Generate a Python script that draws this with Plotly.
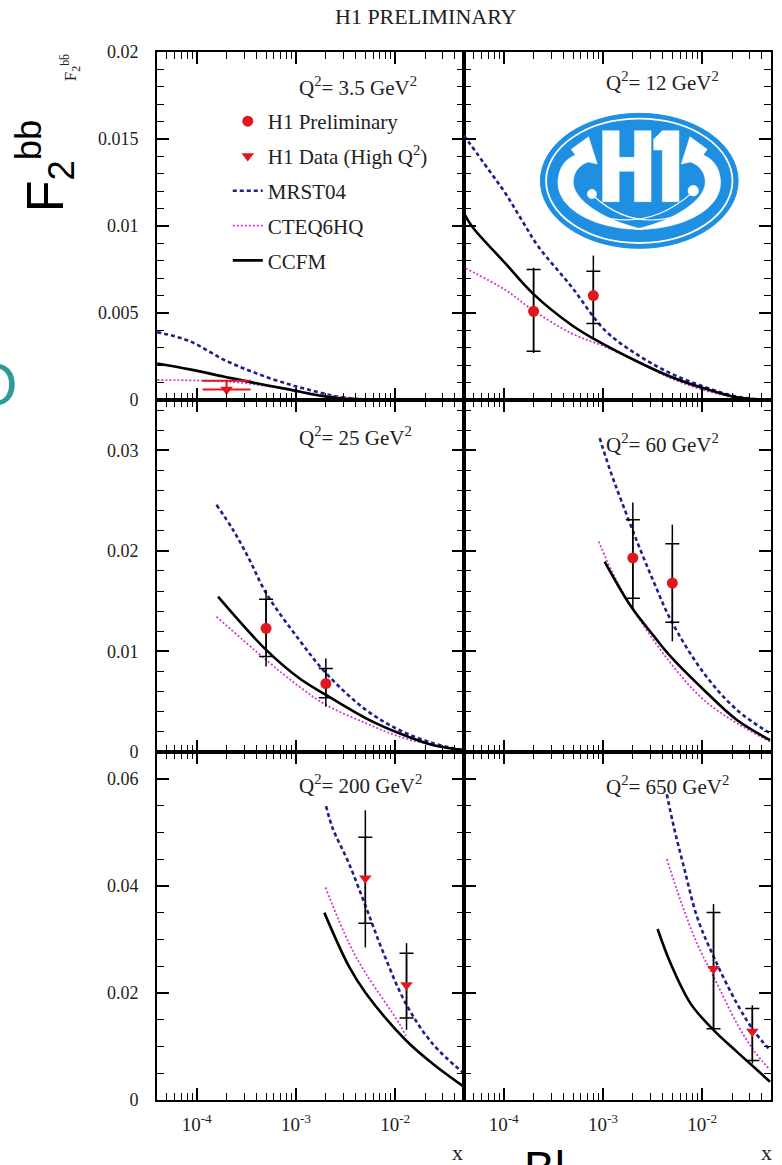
import plotly.graph_objects as go
from plotly.subplots import make_subplots

# ---------------- F2^{b bbar}(x) in six Q^2 bins ----------------
q2_labels = ["3.5", "12", "25", "60", "200", "650"]

# Q^2 = 3.5 GeV^2
mrst_x_1 = [4.0e-5, 8.5e-5, 1.9e-4, 4.0e-4, 8.5e-4, 1.5e-3, 2.5e-3, 4.0e-3, 7.0e-3]
mrst_y_1 = [0.0039, 0.00338, 0.0023, 0.00153, 0.0009, 0.00052, 0.00022, 0.00007, 0.0]
cteq_x_1 = [4.0e-5, 1.0e-4, 2.5e-4, 5.0e-4, 1.0e-3, 2.0e-3, 4.0e-3, 8.0e-3]
cteq_y_1 = [0.00115, 0.00112, 0.00102, 0.0008, 0.00052, 0.00027, 0.0001, 0.0]
ccfm_x_1 = [4.0e-5, 8.5e-5, 1.9e-4, 4.0e-4, 8.5e-4, 1.5e-3, 3.0e-3, 7.0e-3]
ccfm_y_1 = [0.0021, 0.00176, 0.00134, 0.00096, 0.00061, 0.00032, 0.00008, 0.0]
lim_x_1 = [2.0e-4]
lim_y_1 = [0.0006]
lim_up_1 = [0.0005]

# Q^2 = 12 GeV^2
mrst_x_2 = [3.98e-5, 7.08e-5, 1.04e-4, 1.52e-4, 2.24e-4, 4.82e-4, 1.04e-3, 2.24e-3, 4.82e-3, 1.04e-2, 2.24e-2, 4.82e-2]
mrst_y_2 = [0.0152, 0.01322, 0.01188, 0.01034, 0.00881, 0.00651, 0.00402, 0.00259, 0.00153, 0.00077, 0.00019, 0.0]
cteq_x_2 = [4.14e-5, 1.04e-4, 1.96e-4, 4.82e-4, 1.04e-3, 2.24e-3, 4.82e-3, 1.04e-2, 2.24e-2, 4.82e-2]
cteq_y_2 = [0.00757, 0.00632, 0.00517, 0.00383, 0.00307, 0.0022, 0.00125, 0.00057, 0.00013, 0.0]
ccfm_x_2 = [3.98e-5, 4.82e-5, 1.04e-4, 1.96e-4, 4.82e-4, 7.94e-4, 2.24e-3, 4.82e-3, 1.04e-2, 2.24e-2, 4.82e-2]
ccfm_y_2 = [0.01073, 0.00996, 0.00785, 0.00613, 0.00431, 0.00354, 0.0022, 0.00134, 0.00067, 0.00015, 0.0]
pts_x_2 = [2.0e-4, 8.0e-4]
pts_y_2 = [0.0051, 0.0060]
tot_up_2, tot_dn_2 = [0.0025, 0.0023], [0.0024, 0.0024]
sta_up_2, sta_dn_2 = [0.0024, 0.0014], [0.0023, 0.0016]

# Q^2 = 25 GeV^2
mrst_x_3 = [1.58e-4, 2.32e-4, 3.41e-4, 5.01e-4, 1.08e-3, 2.01e-3, 5.08e-3, 1.10e-2, 2.37e-2, 4.74e-2]
mrst_y_3 = [0.02458, 0.0221, 0.0191, 0.01579, 0.01114, 0.00783, 0.00418, 0.00219, 0.0009, 0.0002]
cteq_x_3 = [1.58e-4, 5.01e-4, 1.08e-3, 2.01e-3, 5.08e-3, 1.10e-2, 2.37e-2, 4.74e-2]
cteq_y_3 = [0.01346, 0.00915, 0.0065, 0.00468, 0.00286, 0.00153, 0.0007, 0.0002]
ccfm_x_3 = [1.64e-4, 5.01e-4, 1.08e-3, 2.01e-3, 5.08e-3, 1.10e-2, 2.37e-2, 4.74e-2]
ccfm_y_3 = [0.01545, 0.01015, 0.00733, 0.00567, 0.00335, 0.00186, 0.0007, 0.0002]
pts_x_3 = [5.0e-4, 2.0e-3]
pts_y_3 = [0.0123, 0.0068]
tot_up_3, tot_dn_3 = [0.0038, 0.0025], [0.0038, 0.0023]
sta_up_3, sta_dn_3 = [0.0029, 0.0015], [0.0028, 0.0014]

# Q^2 = 60 GeV^2
mrst_x_4 = [9.27e-4, 1.21e-3, 1.52e-3, 2.24e-3, 3.29e-3, 4.82e-3, 1.04e-2, 2.24e-2, 4.82e-2]
mrst_y_4 = [0.0312, 0.0277, 0.02507, 0.02076, 0.01678, 0.01313, 0.00783, 0.00418, 0.00186]
cteq_x_4 = [9.06e-4, 1.21e-3, 1.92e-3, 4.82e-3, 1.04e-2, 2.24e-2, 4.82e-2]
cteq_y_4 = [0.02093, 0.01811, 0.0145, 0.00882, 0.00517, 0.00286, 0.00103]
ccfm_x_4 = [1.04e-3, 1.92e-3, 3.29e-3, 4.82e-3, 1.04e-2, 2.24e-2, 4.82e-2]
ccfm_y_4 = [0.01894, 0.01446, 0.01147, 0.00948, 0.00617, 0.00318, 0.00119]
pts_x_4 = [2.0e-3, 5.0e-3]
pts_y_4 = [0.0193, 0.0168]
tot_up_4, tot_dn_4 = [0.0055, 0.0058], [0.0052, 0.0058]
sta_up_4, sta_dn_4 = [0.0038, 0.0039], [0.0040, 0.0039]

# Q^2 = 200 GeV^2
mrst_x_5 = [2.01e-3, 2.34e-3, 3.45e-3, 5.08e-3, 7.45e-3, 1.28e-2, 2.37e-2, 4.9e-2]
mrst_y_5 = [0.0549, 0.0508, 0.0440, 0.0360, 0.0279, 0.0180, 0.01055, 0.0050]
cteq_x_5 = [1.98e-3, 3.45e-3, 5.08e-3, 1.10e-2, 1.28e-2]
cteq_y_5 = [0.0397, 0.02915, 0.02357, 0.01427, 0.0120]
ccfm_x_5 = [1.93e-3, 3.45e-3, 5.08e-3, 1.28e-2, 2.37e-2, 4.9e-2]
ccfm_y_5 = [0.0350, 0.0248, 0.0199, 0.01116, 0.00682, 0.0025]
pts_x_5 = [5.0e-3, 1.3e-2]
pts_y_5 = [0.0414, 0.0215]
tot_up_5, tot_dn_5 = [0.0127, 0.0078], [0.0129, 0.0084]
sta_up_5, sta_dn_5 = [0.0077, 0.0059], [0.0084, 0.0062]

# Q^2 = 650 GeV^2
mrst_x_6 = [4.40e-3, 5.21e-3, 6.56e-3, 8.91e-3, 1.31e-2, 2.24e-2, 3.29e-2, 4.82e-2]
mrst_y_6 = [0.0571, 0.0508, 0.0434, 0.0341, 0.02667, 0.0180, 0.0130, 0.0093]
cteq_x_6 = [4.40e-3, 6.07e-3, 8.91e-3, 1.31e-2, 2.24e-2, 3.29e-2, 4.82e-2]
cteq_y_6 = [0.0450, 0.0372, 0.02915, 0.02294, 0.01427, 0.0093, 0.00558]
ccfm_x_6 = [3.55e-3, 4.82e-3, 7.64e-3, 1.31e-2, 2.24e-2, 3.29e-2, 4.82e-2]
ccfm_y_6 = [0.03194, 0.02543, 0.0180, 0.0130, 0.00899, 0.0062, 0.0034]
pts_x_6 = [1.3e-2, 3.2e-2]
pts_y_6 = [0.0245, 0.0128]
tot_up_6, tot_dn_6 = [0.0121, 0.0049], [0.0115, 0.0060]
sta_up_6, sta_dn_6 = [0.0105, 0.0043], [0.0112, 0.0054]

x_tickvals = [1e-4, 1e-3, 1e-2]
x_ticktext = ["10<sup>-4</sup>", "10<sup>-3</sup>", "10<sup>-2</sup>"]

# ---------------- page geometry ----------------
W, H = 782, 1165
M_L, M_R, M_T, M_B = 157, 9, 52, 65
PW, PH = W - M_L - M_R, H - M_T - M_B

RED = "#e3161d"
BLUE = "#1c1f8c"
MAGENTA = "#d13bd1"
SERIF = "Liberation Serif"
SANS = "Liberation Sans"


def paper(px, py):
    return (px - M_L) / PW, (H - M_B - py) / PH


fig = make_subplots(rows=3, cols=2, row_heights=[348, 352, 348],
                    horizontal_spacing=0, vertical_spacing=0)

curves = [
    (1, 1, mrst_x_1, mrst_y_1, cteq_x_1, cteq_y_1, ccfm_x_1, ccfm_y_1),
    (1, 2, mrst_x_2, mrst_y_2, cteq_x_2, cteq_y_2, ccfm_x_2, ccfm_y_2),
    (2, 1, mrst_x_3, mrst_y_3, cteq_x_3, cteq_y_3, ccfm_x_3, ccfm_y_3),
    (2, 2, mrst_x_4, mrst_y_4, cteq_x_4, cteq_y_4, ccfm_x_4, ccfm_y_4),
    (3, 1, mrst_x_5, mrst_y_5, cteq_x_5, cteq_y_5, ccfm_x_5, ccfm_y_5),
    (3, 2, mrst_x_6, mrst_y_6, cteq_x_6, cteq_y_6, ccfm_x_6, ccfm_y_6),
]

for i, (r, c, mx, my, tx, ty, cx, cy) in enumerate(curves):
    first = i == 0
    fig.add_trace(go.Scatter(x=mx, y=my, mode="lines", line_shape="spline",
                             line=dict(color=BLUE, width=2.6, dash="4px,3px"),
                             name="MRST04", legendgroup="mrst", legendrank=3,
                             showlegend=first, hoverinfo="skip"), row=r, col=c)
    fig.add_trace(go.Scatter(x=tx, y=ty, mode="lines", line_shape="spline",
                             line=dict(color=MAGENTA, width=1.8, dash="2px,2px"),
                             name="CTEQ6HQ", legendgroup="cteq", legendrank=4,
                             showlegend=first, hoverinfo="skip"), row=r, col=c)
    fig.add_trace(go.Scatter(x=cx, y=cy, mode="lines", line_shape="spline",
                             line=dict(color="black", width=2.6),
                             name="CCFM", legendgroup="ccfm", legendrank=5,
                             showlegend=first, hoverinfo="skip"), row=r, col=c)


def add_points(r, c, x, y, tu, td, su, sd, symbol, name, group, rank, show):
    # full uncertainty as a plain vertical line
    fig.add_trace(go.Scatter(x=x, y=y, mode="markers", marker=dict(size=2, opacity=0),
                             error_y=dict(type="data", array=tu, arrayminus=td,
                                          color="black", thickness=1.5, width=0),
                             showlegend=False, hoverinfo="skip"), row=r, col=c)
    # statistical part, marked with cross-bars
    fig.add_trace(go.Scatter(x=x, y=y, mode="markers", marker=dict(size=2, opacity=0),
                             error_y=dict(type="data", array=su, arrayminus=sd,
                                          color="black", thickness=1.5, width=7),
                             showlegend=False, hoverinfo="skip"), row=r, col=c)
    fig.add_trace(go.Scatter(x=x, y=y, mode="markers",
                             marker=dict(symbol=symbol, size=11, color=RED),
                             name=name, legendgroup=group, legendrank=rank,
                             showlegend=show, hoverinfo="skip"), row=r, col=c)


PRELIM = "H1 Preliminary"
HIGHQ = "H1 Data (High Q<sup>2</sup>)"

# lowest bin: upper limit
fig.add_trace(go.Scatter(x=lim_x_1, y=lim_y_1, mode="markers",
                         marker=dict(symbol="triangle-down", size=11, color=RED),
                         error_y=dict(type="data", array=lim_up_1, arrayminus=[0],
                                      color=RED, thickness=2, width=24),
                         showlegend=False, hoverinfo="skip"), row=1, col=1)
fig.add_trace(go.Scatter(x=[None], y=[None], mode="markers",
                         marker=dict(symbol="triangle-down", size=11, color=RED),
                         name=HIGHQ, legendgroup="high", legendrank=2,
                         showlegend=True), row=1, col=1)

add_points(1, 2, pts_x_2, pts_y_2, tot_up_2, tot_dn_2, sta_up_2, sta_dn_2, "circle", PRELIM, "prel", 1, True)
add_points(2, 1, pts_x_3, pts_y_3, tot_up_3, tot_dn_3, sta_up_3, sta_dn_3, "circle", PRELIM, "prel", 1, False)
add_points(2, 2, pts_x_4, pts_y_4, tot_up_4, tot_dn_4, sta_up_4, sta_dn_4, "circle", PRELIM, "prel", 1, False)
add_points(3, 1, pts_x_5, pts_y_5, tot_up_5, tot_dn_5, sta_up_5, sta_dn_5, "triangle-down", HIGHQ, "high", 2, False)
add_points(3, 2, pts_x_6, pts_y_6, tot_up_6, tot_dn_6, sta_up_6, sta_dn_6, "triangle-down", HIGHQ, "high", 2, False)

# ---------------- axes ----------------
frame = dict(showline=True, linecolor="black", linewidth=2, mirror="ticks",
             ticks="inside", ticklen=12, tickwidth=1.5, tickcolor="black",
             showgrid=False, zeroline=False)
y_setup = {1: (0.02, 0.005, 0.001), 2: (0.035, 0.01, 0.002), 3: (0.065, 0.02, 0.005)}

for r in (1, 2, 3):
    top, major, minor = y_setup[r]
    for c in (1, 2):
        fig.update_xaxes(type="log", range=[-4.40, -1.307],
                         tickmode="array", tickvals=x_tickvals, ticktext=x_ticktext,
                         showticklabels=(r == 3), ticklabelstandoff=6,
                         tickfont=dict(family=SERIF, size=19, color="#222"),
                         minor=dict(ticks="inside", ticklen=7, tickwidth=1.3,
                                    tickcolor="black", dtick="D1"),
                         row=r, col=c, **frame)
        fig.update_yaxes(range=[0, top], tick0=0, dtick=major,
                         showticklabels=(c == 1), ticklabelstandoff=13,
                         tickfont=dict(family=SERIF, size=18, color="#222"),
                         minor=dict(ticks="inside", ticklen=7, tickwidth=1.3,
                                    tickcolor="black", tick0=0, dtick=minor),
                         row=r, col=c, **frame)

# ---------------- texts ----------------
ann = []


def text(px, py, s, size, family=SERIF, color="#222", xanchor="center",
         yanchor="middle", angle=0):
    xp, yp = paper(px, py)
    ann.append(dict(x=xp, y=yp, xref="paper", yref="paper", text=s, showarrow=False,
                    xanchor=xanchor, yanchor=yanchor, textangle=angle,
                    font=dict(family=family, size=size, color=color)))


text(427, 17, "H1 PRELIMINARY", 22)
q2_pos = [(297, 86), (605, 82), (297, 436), (605, 443), (297, 784), (605, 785)]
for lab, (px, py) in zip(q2_labels, q2_pos):
    text(px, py, "Q<sup>2</sup>= %s GeV<sup>2</sup>" % lab, 21, xanchor="left")
text(458, 1152, "x", 22)
text(768, 1152, "x", 22)
text(70, 68, "F<sub>2</sub><sup>bb\u0304</sup>", 17, angle=-90)
text(45, 166, "F<sub>2</sub><sup>bb</sup>", 52, family=SANS, color="black", angle=-90)
text(20, 384, "O", 60, family=SANS, color="#2c9c95", xanchor="right")
text(523, 1168, "Bl", 46, family=SANS, color="black", xanchor="left")

# ---------------- H1 emblem ----------------
LX0, LY0, LS = 530, 100, 1 / 3.0
LOGO_BLUE = "#1e8fe1"


def lp(zx, zy):
    xp, yp = paper(LX0 + zx * LS, LY0 + zy * LS)
    return "%.5f,%.5f" % (xp, yp)


def path(cmds, close=True):
    # one command letter per segment (extra parameter sets are ignored by plotly)
    out = []
    for op, pts in cmds:
        if op in ("M", "L"):
            out.extend(op + lp(*p) for p in pts)
        elif op == "C":
            for k in range(0, len(pts), 3):
                out.append("C" + " ".join(lp(*p) for p in pts[k:k + 3]))
        elif op == "Q":
            for k in range(0, len(pts), 2):
                out.append("Q" + " ".join(lp(*p) for p in pts[k:k + 2]))
    return " ".join(out) + (" Z" if close else "")


shapes = []


def ellipse(zx0, zy0, zx1, zy1, fill, line_color, lw):
    x0, y0 = paper(LX0 + zx0 * LS, LY0 + zy1 * LS)
    x1, y1 = paper(LX0 + zx1 * LS, LY0 + zy0 * LS)
    shapes.append(dict(type="circle", xref="paper", yref="paper", x0=x0, y0=y0,
                       x1=x1, y1=y1, fillcolor=fill,
                       line=dict(color=line_color, width=lw)))


ellipse(35, 40, 630, 445, LOGO_BLUE, LOGO_BLUE, 1)
ellipse(52, 56, 613, 429, "rgba(0,0,0,0)", "white", 1.8)

white = dict(fillcolor="white", line=dict(color="white", width=0.5))
# letters H and 1
h_shape = [("M", [(222, 92)]), ("L", [(272, 92), (272, 172), (318, 172), (318, 92), (368, 92),
                                       (368, 305), (318, 305), (318, 214), (272, 214),
                                       (272, 305), (222, 305)])]
one_shape = [("M", [(376, 118)]), ("L", [(402, 92), (452, 92), (452, 305), (402, 305),
                                         (402, 150), (376, 150)])]
# sweeping arrows
left_arrow = [("M", [(345, 388)]), ("C", [(210, 392), (80, 330), (88, 240)]),
              ("C", [(92, 200), (110, 178), (140, 165)]),
              ("L", [(128, 148), (180, 110), (206, 192), (178, 186)]),
              ("C", [(150, 196), (132, 220), (134, 250)]),
              ("C", [(138, 300), (220, 360), (345, 388)])]
right_arrow = [(op, [(665 - a, b) for a, b in pts]) for op, pts in left_arrow]
for shp in (h_shape, one_shape, left_arrow, right_arrow):
    shapes.append(dict(type="path", xref="paper", yref="paper", path=path(shp), **white))

# orbit lines
orbit1 = [("M", [(195, 288)]), ("Q", [(350, 430), (565, 292)])]
orbit2 = [("M", [(492, 278)]), ("Q", [(320, 430), (105, 300)])]
for shp in (orbit1, orbit2):
    shapes.append(dict(type="path", xref="paper", yref="paper", path=path(shp, close=False),
                       line=dict(color="white", width=1.2)))

for (zx, zy, rr) in [(190, 282, 14), (495, 272, 16)]:
    ellipse(zx - rr, zy - rr, zx + rr, zy + rr, "white", "white", 0.5)

lx, ly = paper(228, 101)
fig.update_layout(
    width=W, height=H,
    margin=dict(l=M_L, r=M_R, t=M_T, b=M_B),
    paper_bgcolor="white", plot_bgcolor="white",
    annotations=ann, shapes=shapes,
    legend=dict(x=lx, y=ly, xanchor="left", yanchor="top", bgcolor="rgba(0,0,0,0)",
                font=dict(family=SERIF, size=21, color="#222"),
                tracegroupgap=4.5, traceorder="grouped", itemwidth=30),
)

fig.write_html("out.html")
